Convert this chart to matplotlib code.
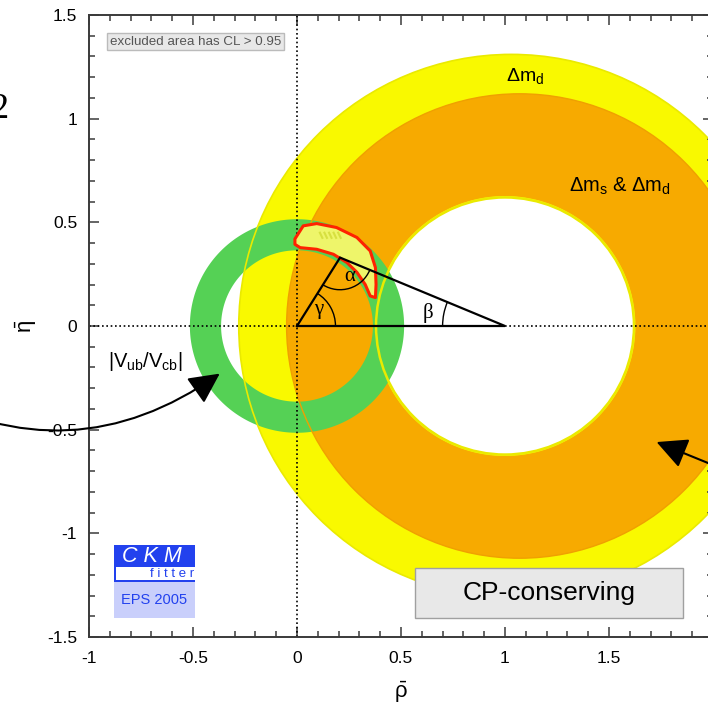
import numpy as np
import matplotlib.pyplot as plt
from matplotlib.path import Path
from matplotlib.patches import PathPatch, Polygon, Rectangle, Arc, FancyArrowPatch, Circle

plt.rcParams['font.family'] = ['Liberation Sans', 'DejaVu Sans']
plt.rcParams['mathtext.fontset'] = 'custom'
plt.rcParams['mathtext.rm'] = 'Liberation Sans'
plt.rcParams['mathtext.it'] = 'Liberation Sans'

# constraint rings in the (rho, eta) plane: (outer centre, outer radius, inner centre, inner radius)
dmd_ring = (1.03, 1.31, 1.0, 0.62)
dms_ring = (1.07, 1.12, 1.0, 0.627)
vub_ring = (0.0, 0.515, 0.0, 0.365)

# global fit 95% CL region
fit_rho = [-0.01, 0.03, 0.095, 0.19, 0.288, 0.352, 0.377, 0.38, 0.377, 0.352,
           0.328, 0.288, 0.24, 0.175, 0.095, 0.015, -0.01]
fit_eta = [0.42, 0.483, 0.494, 0.475, 0.427, 0.362, 0.282, 0.20, 0.137, 0.145,
           0.2, 0.259, 0.306, 0.346, 0.37, 0.378, 0.394]

# unitarity triangle apex
apex_rho, apex_eta = 0.207, 0.33

col_dmd = '#F9F900'
col_dms = '#F7AA00'
col_vub = '#55D155'


def ring(c_out, r_out, c_in, r_in, n=400):
    t = np.linspace(0, 2 * np.pi, n)
    outer = np.column_stack([c_out + r_out * np.cos(t), r_out * np.sin(t)])
    inner = np.column_stack([c_in + r_in * np.cos(t[::-1]), r_in * np.sin(t[::-1])])
    verts = np.concatenate([outer, inner])
    codes = np.full(len(verts), Path.LINETO)
    codes[0] = Path.MOVETO
    codes[n] = Path.MOVETO
    return Path(verts, codes)


fig = plt.figure(figsize=(7.08, 7.10), dpi=100)
ax = fig.add_axes([89 / 708, 73 / 710, 624 / 708, 622 / 710])
ax.set_xlim(-1, 2)
ax.set_ylim(-1.5, 1.5)

ax.add_patch(PathPatch(ring(*dmd_ring), fc=col_dmd, ec='none', zorder=1))
ax.add_patch(PathPatch(ring(*dms_ring), fc=col_dms, ec='none', zorder=2))
ax.add_patch(PathPatch(ring(*vub_ring), fc=col_vub, ec='none', zorder=3))

# contour lines of the rings
ax.add_patch(Circle((dmd_ring[0], 0), dmd_ring[1], fc='none', ec='#EAEA00', lw=1.2, zorder=4))
ax.add_patch(Circle((dmd_ring[2], 0), dmd_ring[3], fc='none', ec='#EAEA00', lw=1.8, zorder=4))
ax.add_patch(Circle((dms_ring[0], 0), dms_ring[1], fc='none', ec='#F0A000', lw=1.0, zorder=4))

# fit region
ax.add_patch(Polygon(np.column_stack([fit_rho, fit_eta]), closed=True, fc='#EEF56A', ec='#FF2200',
                     lw=2.2, joinstyle='round', zorder=6))
for k in range(5):
    x0 = 0.11 + 0.022 * k
    ax.plot([x0, x0 + 0.012], [0.45, 0.425], color='#D7E040', lw=1.5, zorder=7)

# axes cross
ax.axvline(0, color='black', ls=(0, (1, 1.6)), lw=1.2, zorder=5)
ax.axhline(0, color='black', ls=(0, (1, 1.6)), lw=1.2, zorder=5)

# unitarity triangle
ax.plot([0, 1, apex_rho, 0], [0, 0, apex_eta, 0], color='black', lw=1.6, zorder=8,
        solid_joinstyle='miter')
ang_g = np.degrees(np.arctan2(apex_eta, apex_rho))
ang_b = np.degrees(np.arctan2(apex_eta, 1 - apex_rho))
ax.add_patch(Arc((0, 0), 0.37, 0.37, theta1=0, theta2=ang_g, color='black', lw=1.0, zorder=8))
ax.add_patch(Arc((apex_rho, apex_eta), 0.31, 0.31, theta1=180 + ang_g, theta2=360 - ang_b,
                 color='black', lw=1.0, zorder=8))
ax.add_patch(Arc((1, 0), 0.60, 0.60, theta1=180 - ang_b, theta2=180, color='black', lw=1.0, zorder=8))
ax.text(0.103, 0.08, 'γ', family='Liberation Serif', fontsize=15, ha='center', va='center', zorder=9)
ax.text(0.255, 0.237, 'α', family='Liberation Serif', fontsize=15, ha='center', va='center', zorder=9)
ax.text(0.631, 0.064, 'β', family='Liberation Serif', fontsize=15, ha='center', va='center', zorder=9)

# constraint labels
ax.text(1.096, 1.205, r'$\Delta m_{\rm d}$', fontsize=14, ha='center', va='center', zorder=9)
ax.text(1.553, 0.672, r'$\Delta m_{\rm s}$ & $\Delta m_{\rm d}$', fontsize=14.5, ha='center', va='center', zorder=9)
ax.text(-0.909, -0.17, r'$|V_{\rm ub}/V_{\rm cb}|$', fontsize=14.5, ha='left', va='center', zorder=9)

# info boxes
ax.text(-0.488, 1.372, 'excluded area has CL > 0.95', fontsize=9.6, color='#555555', ha='center', va='center',
        zorder=9, bbox=dict(boxstyle='square,pad=0.22', fc='#E8E8E8', ec='#BBBBBB', lw=1.0))
ax.add_patch(Rectangle((0.567, -1.406), 1.289, 0.237, fc='#E8E8E8', ec='#A0A0A0', lw=1.0, zorder=9))
ax.text(1.211, -1.287, 'CP-conserving', fontsize=19, ha='center', va='center', zorder=10)

# CKMfitter logo
ax.add_patch(Rectangle((-0.88, -1.164), 0.39, 0.106, fc='#2241EE', ec='none', zorder=9))
ax.add_patch(Rectangle((-0.88, -1.227), 0.39, 0.063, fc='white', ec='none', zorder=9))
ax.add_patch(Rectangle((-0.88, -1.227), 0.012, 0.063, fc='#2241EE', ec='none', zorder=9))
ax.add_patch(Rectangle((-0.88, -1.236), 0.39, 0.009, fc='#2241EE', ec='none', zorder=9))
ax.add_patch(Rectangle((-0.88, -1.41), 0.39, 0.174, fc='#C9CFFB', ec='none', zorder=9))
ax.text(-0.7, -1.112, 'C K M', color='white', fontsize=15.5, style='italic', ha='center', va='center', zorder=10)
ax.text(-0.6, -1.196, 'f i t t e r', color='#2241EE', fontsize=9.5, ha='center', va='center', zorder=10)
ax.text(-0.685, -1.32, 'EPS 2005', color='#2241EE', fontsize=10.5, ha='center', va='center', zorder=10)

# frame and ticks
ax.set_xticks(np.arange(-1, 2.01, 0.5))
ax.set_yticks(np.arange(-1.5, 1.51, 0.5))
ax.set_xticklabels(['-1', '-0.5', '0', '0.5', '1', '1.5', ''])
ax.set_yticklabels(['-1.5', '-1', '-0.5', '0', '0.5', '1', '1.5'])
ax.set_xticks(np.arange(-1, 2.01, 0.1), minor=True)
ax.set_yticks(np.arange(-1.5, 1.51, 0.1), minor=True)
ax.tick_params(which='both', direction='in', top=True, right=True, color='#3A3A3A', width=1.1, labelsize=12.5)
ax.tick_params(axis='x', which='major', length=7.5, pad=10)
ax.tick_params(axis='y', which='major', length=7.5, pad=8.5)
ax.tick_params(which='minor', length=4)
for s in ax.spines.values():
    s.set_color('#3A3A3A')
    s.set_linewidth(1.4)
    s.set_zorder(12)
ax.set_xlabel(r'$\bar{\rho}$', fontsize=16, labelpad=10)
ax.set_ylabel(r'$\bar{\eta}$', fontsize=16, labelpad=6)

# slide annotations
fig.text(9 / 708, 1 - 110 / 710, '2', family='Liberation Serif', fontsize=26, ha='right', va='center')
px = fig.dpi_scale_trans
fig.add_artist(FancyArrowPatch(((-90) / 100, (710 - 388) / 100), (222 / 100, (710 - 372) / 100),
                               connectionstyle='arc3,rad=0.32', arrowstyle='-|>,head_length=0.9,head_width=0.45',
                               mutation_scale=21, lw=1.5, color='black', transform=px))
fig.add_artist(FancyArrowPatch((735 / 100, (710 - 474) / 100), (654 / 100, (710 - 441) / 100),
                               arrowstyle='-|>,head_length=0.9,head_width=0.45',
                               mutation_scale=21, lw=1.5, color='black', transform=px))

fig.savefig('out.png', dpi=100)
